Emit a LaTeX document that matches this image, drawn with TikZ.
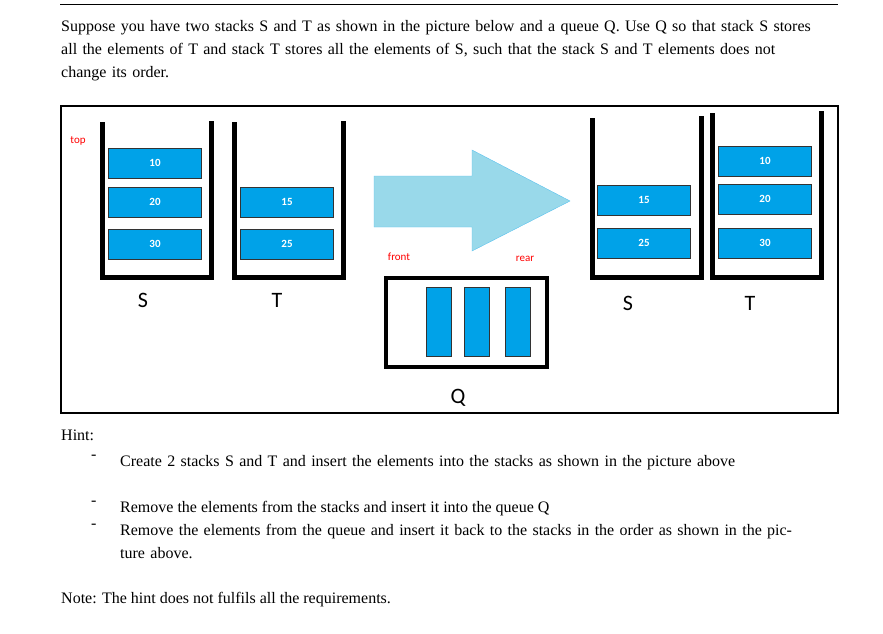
\documentclass[tikz,border=0pt]{standalone}
\usepackage{fontspec}
\setmainfont{Liberation Serif}
\newfontfamily\calib{Carlito}
\usetikzlibrary{positioning}
\definecolor{itemblue}{HTML}{00A2E8}
\definecolor{arrowblue}{HTML}{99D9EA}
\definecolor{arrowedge}{HTML}{5BC2EE}
\tikzset{
  item/.style={draw=black!80, thick, fill=itemblue, minimum width=93pt, minimum height=30pt,
    inner sep=0pt, font=\calib\bfseries\fontsize{11}{11}\selectfont, text=white},
  bar/.style={draw=black!80, thick, fill=itemblue, minimum width=25pt, minimum height=69pt, inner sep=0pt},
  wall/.style={line width=5pt},
  letter/.style={font=\calib\fontsize{22}{22}\selectfont},
  tag/.style={font=\calib\fontsize{11}{11}\selectfont, text=red},
  para/.style={anchor=north west, inner sep=0pt, font=\fontsize{16}{23}\selectfont, align=left}
}
\begin{document}
\begin{tikzpicture}[x=1pt, y=-1pt]
  \useasboundingbox (0,0) rectangle (883,634);
  \draw[thick] (60,4) -- (838,4);
  \node[para, text width=760pt] (intro) at (61,20) {Suppose you have two stacks S and T as shown in the picture below and a queue Q. Use Q so that stack S stores all the elements of T and stack T stores all the elements of S, such that the stack S and T elements does not change its order.};
  \draw[line width=1.5pt] (61,106) rectangle (838,413);

  % stacks before
  \draw[wall] (102,122) |- (211,277) -- (211,121);
  \draw[wall] (234,122) |- (343,277) -- (343,121);
  \node[tag] (top) at (78,141) {top};
  \node[item] (s10) at (155,163) {10};
  \node[item] (s20) at (155,202) {20};
  \node[item] (s30) at (155,244) {30};
  \node[item] (t15) at (287,202) {15};
  \node[item] (t25) at (287,244) {25};
  \node[letter] (S1) at (143,300) {S};
  \node[letter] (T1) at (277,300) {T};

  % arrow
  \draw[draw=arrowedge, fill=arrowblue] (374,176) -- (472,176) -- (472,150) -- (570,201)
    -- (472,251) -- (472,227) -- (374,227) -- cycle;

  % queue
  \node[tag] (front) at (399,257) {front};
  \node[tag] (rear) at (525,259) {rear};
  \draw[line width=4pt] (386,278) rectangle (547,367);
  \node[bar] (q1) at (439,322) {};
  \node[bar] (q2) at (477,322) {};
  \node[bar] (q3) at (518,322) {};
  \node[letter] (Q) at (458,398) {Q};

  % stacks after
  \draw[wall] (592,118) |- (701,277) -- (701,116);
  \draw[wall] (712,113) |- (821,277) -- (821,111);
  \node[item] (s15) at (644,200) {15};
  \node[item] (s25) at (644,243) {25};
  \node[item] (t10) at (765,161) {10};
  \node[item] (t20) at (765,199) {20};
  \node[item] (t30) at (765,243) {30};
  \node[letter] (S2) at (628,303) {S};
  \node[letter] (T2) at (750,303) {T};

  % hint
  \node[para] (hint) at (61,430) {Hint:};
  \node[para] (d1) at (91,455) {-};
  \node[para, text width=690pt] (h1) at (120,455) {Create 2 stacks S and T and insert the elements into the stacks as shown in the picture above};
  \node[para] (d2) at (91,501) {-};
  \node[para] (h2) at (120,501) {Remove the elements from the stacks and insert it into the queue Q};
  \node[para] (d3) at (91,524) {-};
  \node[para, text width=690pt] (h3) at (120,524) {Remove the elements from the queue and insert it back to the stacks in the order as shown in the picture above.};
  \node[para] (note) at (61,592) {Note: The hint does not fulfils all the requirements.};
\end{tikzpicture}
\end{document}
